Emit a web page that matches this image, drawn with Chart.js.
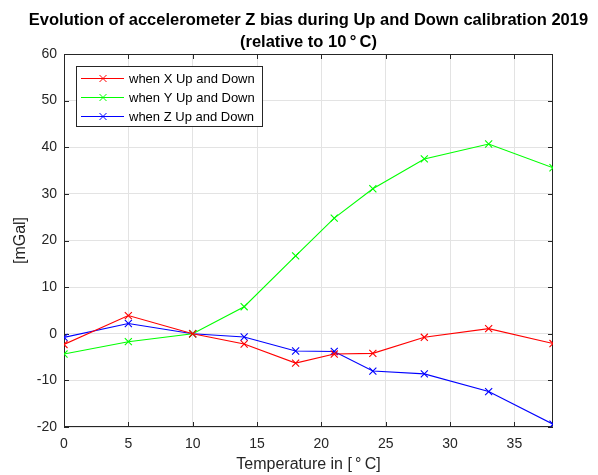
<!DOCTYPE html>
<html>
<head>
<meta charset="utf-8">
<script src="https://cdn.jsdelivr.net/npm/chart.js@4"></script>
<style>
  html, body { margin: 0; padding: 0; background: #fff; }
  #wrap { width: 598px; height: 475px; }
</style>
</head>
<body>
<div id="wrap"><canvas id="c" width="598" height="475"></canvas></div>
<script>
const temperatures = [0, 5, 10, 14, 18, 21, 24, 28, 33, 38];
const xUpDown = [-2.3, 3.9, 0, -2.2, -6.3, -4.35, -4.2, -0.76, 1.1, -2.1];
const yUpDown = [-4.35, -1.7, 0, 5.8, 16.7, 24.8, 31.1, 37.5, 40.7, 35.6];
const zUpDown = [-0.77, 2.2, 0, -0.7, -3.7, -3.8, -8.0, -8.6, -12.4, -19.4];
const seriesLabels = ['when X Up and Down', 'when Y Up and Down', 'when Z Up and Down'];
const titleLines = ['Evolution of accelerometer Z bias during Up and Down calibration 2019', '(relative to 10\u2009\u00b0\u2009C)'];
const xTitle = 'Temperature in [\u2009\u00b0\u2009C]';
const yTitle = '[mGal]';

const AX = '#262626';
const toPts = v => temperatures.map((t, i) => ({x: t, y: v[i]}));
const mk = (label, vals, color) => ({
  label, data: toPts(vals), borderColor: color, backgroundColor: color,
  borderWidth: 1.1, pointStyle: 'crossRot', pointRadius: 5, pointBorderWidth: 1.1,
  pointHoverRadius: 5, fill: false, tension: 0
});

const boxPlugin = {
  id: 'box',
  beforeDatasetsDraw(chart) {
    const {ctx, chartArea: a, scales: {x, y}} = chart;
    ctx.save();
    ctx.strokeStyle = AX;
    ctx.lineWidth = 1;
    ctx.beginPath();
    ctx.rect(a.left + 0.5, a.top + 0.5, a.right - a.left - 1, a.bottom - a.top - 1);
    ctx.stroke();
    const L = 5;
    ctx.beginPath();
    x.ticks.forEach(t => {
      const px = Math.round(x.getPixelForValue(t.value)) + 0.5;
      ctx.moveTo(px, a.bottom); ctx.lineTo(px, a.bottom - L);
      ctx.moveTo(px, a.top); ctx.lineTo(px, a.top + L);
    });
    y.ticks.forEach(t => {
      const py = Math.round(y.getPixelForValue(t.value)) + 0.5;
      ctx.moveTo(a.left, py); ctx.lineTo(a.left + L, py);
      ctx.moveTo(a.right, py); ctx.lineTo(a.right - L, py);
    });
    ctx.stroke();
    ctx.restore();
  },
  afterDraw(chart) {
    const {ctx, chartArea: a} = chart;
    ctx.save();
    // title
    ctx.fillStyle = '#000';
    ctx.font = 'bold 16.5px "Liberation Sans", Arial, sans-serif';
    ctx.textAlign = 'center';
    ctx.textBaseline = 'middle';
    const cx = (a.left + a.right) / 2;
    titleLines.forEach((l, i) => ctx.fillText(l, cx, 20 + i * 22));
    // legend
    const lx = a.left + 12, ly = a.top + 12, lw = 187, lh = 61;
    ctx.fillStyle = '#fff';
    ctx.fillRect(lx, ly, lw, lh);
    ctx.strokeStyle = AX;
    ctx.lineWidth = 1;
    ctx.strokeRect(lx + 0.5, ly + 0.5, lw - 1, lh - 1);
    ctx.font = '13px "Liberation Sans", Arial, sans-serif';
    ctx.textAlign = 'left';
    chart.data.datasets.forEach((ds, i) => {
      const yy = ly + 12.5 + i * 19;
      ctx.strokeStyle = ds.borderColor;
      ctx.beginPath();
      ctx.moveTo(lx + 5, yy); ctx.lineTo(lx + 48, yy);
      ctx.stroke();
      const r = 3.5;
      ctx.beginPath();
      ctx.moveTo(lx + 27 - r, yy - r); ctx.lineTo(lx + 27 + r, yy + r);
      ctx.moveTo(lx + 27 - r, yy + r); ctx.lineTo(lx + 27 + r, yy - r);
      ctx.stroke();
      ctx.fillStyle = '#000';
      ctx.fillText(ds.label, lx + 53, yy + 1);
    });
    ctx.restore();
  }
};

new Chart(document.getElementById('c'), {
  type: 'line',
  data: {
    datasets: [
      mk(seriesLabels[0], xUpDown, '#ff0000'),
      mk(seriesLabels[1], yUpDown, '#00ff00'),
      mk(seriesLabels[2], zUpDown, '#0000ff')
    ]
  },
  options: {
    responsive: false,
    animation: false,
    devicePixelRatio: 1,
    layout: { padding: { top: 54, right: 45, left: 0, bottom: 0 } },
    plugins: { legend: { display: false }, title: { display: false }, tooltip: { enabled: false } },
    scales: {
      x: {
        type: 'linear', min: 0, max: 38,
        afterFit: s => { s.height = 48; },
        ticks: { stepSize: 5, includeBounds: false, padding: 9, color: AX,
          font: { family: '"Liberation Sans", Arial, sans-serif', size: 14 } },
        grid: { color: '#e3e3e3', drawTicks: false },
        border: { display: false },
        title: { display: true, text: xTitle, color: AX, padding: { top: 0, bottom: 1 },
          font: { family: '"Liberation Sans", Arial, sans-serif', size: 16 } }
      },
      y: {
        type: 'linear', min: -20, max: 60,
        afterFit: s => { s.width = 64; },
        ticks: { stepSize: 10, padding: 7, color: AX,
          font: { family: '"Liberation Sans", Arial, sans-serif', size: 14 } },
        grid: { color: '#e3e3e3', drawTicks: false },
        border: { display: false },
        title: { display: true, text: yTitle, color: AX, padding: { top: 11, bottom: 0 },
          font: { family: '"Liberation Sans", Arial, sans-serif', size: 16 } }
      }
    }
  },
  plugins: [boxPlugin]
});
</script>
</body>
</html>
